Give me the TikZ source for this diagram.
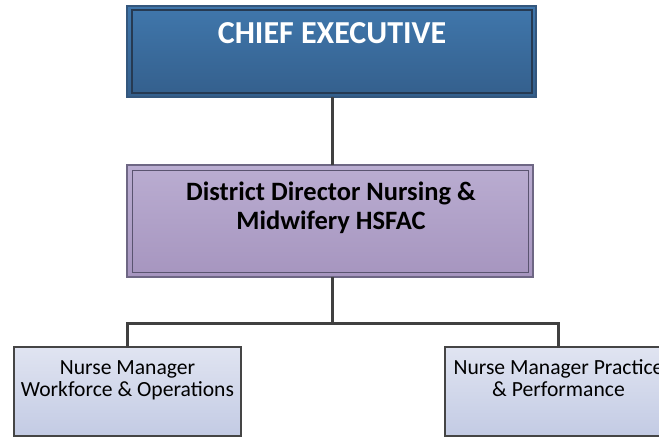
\documentclass[tikz,border=0pt]{standalone}
\usepackage{fontspec}
\setmainfont{Carlito}
\begin{document}
\begin{tikzpicture}[x=1pt,y=-1pt,
  box/.style={rectangle,inner sep=0pt,outer sep=0pt},
  topbox/.style={box,top color=ceoTop,bottom color=ceoBot,draw=ceoBorder,line width=1.5pt},
  midbox/.style={box,top color=midTop,bottom color=midBot,draw=midBorder,line width=1.5pt},
  lowbox/.style={box,top color=lowTop,bottom color=lowBot,draw=lowBorder,line width=1.1pt},
  conn/.style={draw=connCol,line width=3pt},
  lbl/.style={anchor=base,inner sep=0pt}]
\definecolor{ceoTop}{HTML}{4077AC}
\definecolor{ceoBot}{HTML}{345F8C}
\definecolor{ceoBorder}{HTML}{34577D}
\definecolor{ceoInner}{HTML}{263A52}
\definecolor{midTop}{HTML}{BAADD1}
\definecolor{midBot}{HTML}{A695BF}
\definecolor{midBorder}{HTML}{6E6784}
\definecolor{midInner}{HTML}{5A5470}
\definecolor{lowTop}{HTML}{E0E4F1}
\definecolor{lowBot}{HTML}{C3CBE4}
\definecolor{lowBorder}{HTML}{454545}
\definecolor{connCol}{HTML}{404040}
\clip (0,0) rectangle (659,438);
\fill[white] (0,0) rectangle (659,438);
% boxes
\node[topbox,minimum width=409pt,minimum height=91pt] (ceo) at (331.5,51.5) {};
\draw[ceoInner,line width=1.1pt] ([xshift=5pt,yshift=-4pt]ceo.north west) rectangle ([xshift=-4pt,yshift=4pt]ceo.south east);
\node[midbox,minimum width=406pt,minimum height=112pt] (ddn) at (330,221) {};
\draw[midInner,line width=0.9pt] ([xshift=5pt,yshift=-5pt]ddn.north west) rectangle ([xshift=-5pt,yshift=5pt]ddn.south east);
\node[lowbox,minimum width=227pt,minimum height=89pt] (wf) at (127.5,391.5) {};
\node[lowbox,minimum width=227pt,minimum height=89pt] (pp) at (558.5,391.5) {};
% connectors
\coordinate (j) at (332,324);
\draw[conn] (ceo.south -| j) -- (ddn.north -| j);
\draw[conn] (ddn.south -| j) -- (j);
\draw[conn,line cap=rect] (wf.north) |- (j) -| (pp.north);
% labels
\node[lbl,text=white,font=\fontsize{32}{38}\selectfont\bfseries] (t1) at (332,44) {CHIEF EXECUTIVE};
\node[lbl,font=\fontsize{26.5}{30}\selectfont\bfseries] (t2) at (331,201) {District Director Nursing \&};
\node[lbl,font=\fontsize{26.5}{30}\selectfont\bfseries] (t3) at (331,230) {Midwifery HSFAC};
\node[lbl,font=\fontsize{21.6}{26}\selectfont] (t4) at (127.5,374) {Nurse Manager};
\node[lbl,font=\fontsize{21.6}{26}\selectfont] (t5) at (127.5,397) {Workforce \& Operations};
\node[lbl,font=\fontsize{21.6}{26}\selectfont] (t6) at (558.5,374) {Nurse Manager Practice};
\node[lbl,font=\fontsize{21.6}{26}\selectfont] (t7) at (558.5,397) {\& Performance};
\end{tikzpicture}
\end{document}
